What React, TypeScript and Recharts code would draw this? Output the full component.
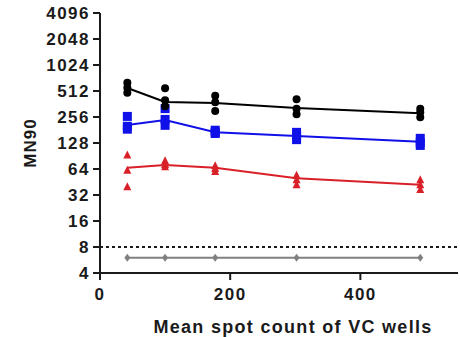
import { ComposedChart, Line, Scatter, XAxis, YAxis, ReferenceLine } from "recharts"

// spot counts (x) shared by all groups
const spotCounts = [42, 100, 177, 302, 492]

// replicate MN90 values per spot count
const blackReps = [[640, 560, 490], [550, 400, 340], [450, 380, 300], [410, 320, 275], [320, 290, 255]]
const blueReps = [[260, 200, 185], [320, 240, 205], [180, 170, 165], [170, 155, 140], [145, 130, 120]]
const redReps = [[93, 62, 40], [80, 72, 68], [70, 65, 60], [54, 48, 42], [48, 42, 37]]

// means (connecting lines)
const blackMean = [555, 383, 372, 325, 283]
const blueMean = [207, 236, 171, 154, 132]
const redMean = [66, 71, 66, 50, 42]
const grayMean = [6, 6, 6, 6, 6]

const yTicks = [4, 8, 16, 32, 64, 128, 256, 512, 1024, 2048, 4096]
const xTicks = [0, 200, 400]

const toPoints = (reps: number[][]) =>
  reps.flatMap((vals, i) => vals.map((y) => ({ x: spotCounts[i], y })))
const toLine = (vals: number[]) => vals.map((y, i) => ({ x: spotCounts[i], y }))

const font = "'Liberation Sans', Arial, sans-serif"
const tickStyle = { fontSize: 17, fontWeight: 700, fill: "#1a1a1a", fontFamily: font, letterSpacing: 1.5 }

const Dot = (p: any) => <circle cx={p.cx} cy={p.cy} r={4} fill="#000" />
const Square = (p: any) => <rect x={p.cx - 4.5} y={p.cy - 4.5} width={9} height={9} fill="#1010e8" />
const Tri = (p: any) => (
  <path d={`M${p.cx},${p.cy - 4.5} L${p.cx + 4},${p.cy + 3.5} L${p.cx - 4},${p.cy + 3.5} Z`} fill="#d92028" />
)
const Diamond = (p: any) => (
  <path
    key={p.index}
    d={`M${p.cx},${p.cy - 4} L${p.cx + 3},${p.cy} L${p.cx},${p.cy + 4} L${p.cx - 3},${p.cy} Z`}
    fill="#808080"
  />
)

export default function App() {
  return (
    <div style={{ position: "absolute", left: 0, top: 0, background: "#fff" }}>
      <ComposedChart width={460} height={337} margin={{ top: 13, right: 2, left: 0, bottom: 0 }}>
        <XAxis
          type="number"
          dataKey="x"
          domain={[0, 550]}
          ticks={xTicks}
          allowDataOverflow
          height={64}
          stroke="#1a1a1a"
          strokeWidth={2}
          tickSize={7}
          tickMargin={8}
          tick={tickStyle}
          label={{
            value: "Mean spot count of VC wells",
            position: "insideBottom",
            offset: 4,
            dx: 14,
            style: { fontSize: 18, fontWeight: 700, fill: "#1a1a1a", fontFamily: font, letterSpacing: 1.3 },
          }}
        />
        <YAxis
          type="number"
          dataKey="y"
          scale="log"
          domain={[4, 4096]}
          ticks={yTicks}
          allowDataOverflow
          width={100}
          stroke="#1a1a1a"
          strokeWidth={2}
          tickSize={7}
          tickMargin={3}
          interval={0}
          tick={tickStyle}
          label={{
            value: "MN90",
            angle: -90,
            position: "center",
            dx: -20,
            style: { fontSize: 17, fontWeight: 700, fill: "#1a1a1a", fontFamily: font, textAnchor: "middle", letterSpacing: 1 },
          }}
        />
        <ReferenceLine y={8} stroke="#1a1a1a" strokeWidth={2} strokeDasharray="3 3" />
        <Line
          data={toLine(grayMean)}
          dataKey="y"
          stroke="#808080"
          strokeWidth={2}
          dot={Diamond}
          isAnimationActive={false}
        />
        <Line data={toLine(redMean)} dataKey="y" stroke="#d92028" strokeWidth={2} dot={false} isAnimationActive={false} />
        <Line data={toLine(blueMean)} dataKey="y" stroke="#1010e8" strokeWidth={2} dot={false} isAnimationActive={false} />
        <Line data={toLine(blackMean)} dataKey="y" stroke="#000" strokeWidth={2} dot={false} isAnimationActive={false} />
        <Scatter data={toPoints(redReps)} dataKey="y" shape={Tri} isAnimationActive={false} />
        <Scatter data={toPoints(blueReps)} dataKey="y" shape={Square} isAnimationActive={false} />
        <Scatter data={toPoints(blackReps)} dataKey="y" shape={Dot} isAnimationActive={false} />
      </ComposedChart>
    </div>
  )
}
